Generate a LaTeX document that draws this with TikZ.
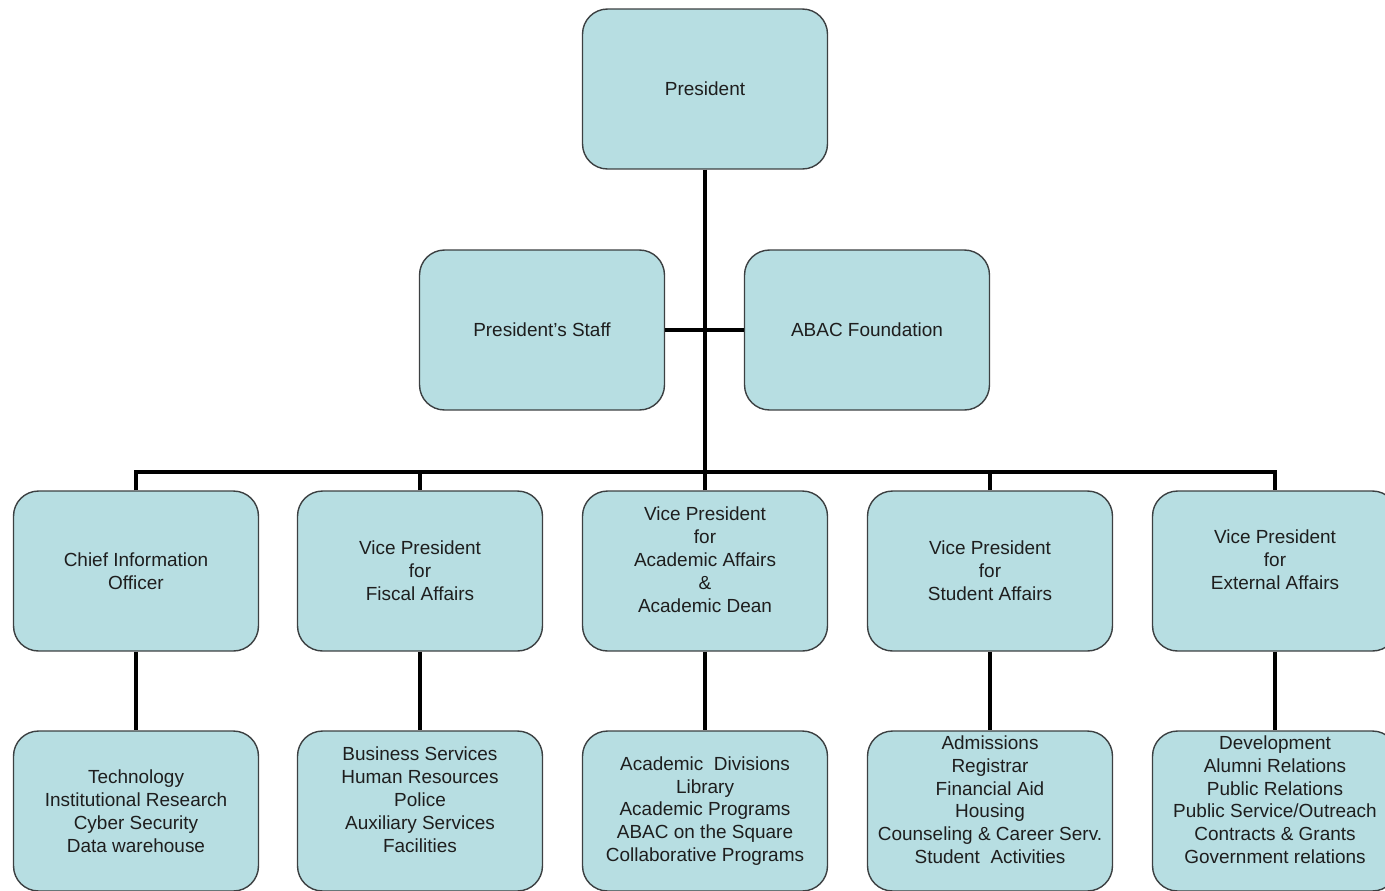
\documentclass[tikz,border=0pt]{standalone}
\usepackage{fontspec}
\setmainfont{Liberation Sans}
\usepackage{tikz}
\usetikzlibrary{positioning}
\definecolor{boxfill}{RGB}{183,222,226}
\definecolor{boxline}{RGB}{60,64,66}
\definecolor{boxtext}{RGB}{30,30,30}

\begin{document}
\begin{tikzpicture}[x=0.02cm,y=-0.02cm,font=\fontsize{10.8}{13}\selectfont,
  box/.style={draw=boxline,line width=0.8pt,fill=boxfill,rounded corners=0.5cm,
    minimum width=4.9cm,minimum height=3.2cm,align=center,text=boxtext,inner sep=2pt},
  conn/.style={line width=2.8pt,black}]
\useasboundingbox (0,0) rectangle (1385,890);
% top of the chart
\node[box] (pres) at (705,89) {President};
\node[box] (staff) at (542,330) {President{\char"0027}s Staff};
\node[box] (found) at (867,330) {ABAC Foundation};
\coordinate (bus) at (705,472);
% vice presidents
\node[box] (cio) at (136,571) {Chief Information\\Officer};
\node[box] (fis) at (420,571) {Vice President\\for\\Fiscal Affairs};
\node[box] (aca) at (705,571) {Vice President\\for\\Academic Affairs\\\&\\Academic Dean\\ \mbox{}};
\node[box] (stu) at (990,571) {Vice President\\for\\Student Affairs};
\node[box] (ext) at (1275,571) {Vice President\\for\\External Affairs\\ \mbox{}};
% units
\node[box] (tech) at (136,811) {Technology\\Institutional Research\\Cyber Security\\Data warehouse};
\node[box] (fisu) at (420,811) {Business Services\\Human Resources\\Police\\Auxiliary Services\\Facilities\\ \mbox{}};
\node[box] (acau) at (705,811) {Academic~ Divisions\\Library\\Academic Programs\\ABAC on the Square\\Collaborative Programs};
\node[box] (stuu) at (990,811) {Admissions\\Registrar\\Financial Aid\\Housing\\Counseling \& Career Serv.\\Student~ Activities\\ \mbox{}};
\node[box] (extu) at (1275,811) {Development\\Alumni Relations\\Public Relations\\Public Service/Outreach\\Contracts \& Grants\\Government relations\\ \mbox{}};

\draw[conn] (pres) -- (bus);
\draw[conn] (staff) -- (found);
\draw[conn] (cio.north) |- (bus) -| (ext.north);
\draw[conn] (fis.north) -- (fis.north |- bus);
\draw[conn] (stu.north) -- (stu.north |- bus);
\draw[conn] (aca.north) -- (bus);
\draw[conn] (cio) -- (tech);
\draw[conn] (fis) -- (fisu);
\draw[conn] (aca) -- (acau);
\draw[conn] (stu) -- (stuu);
\draw[conn] (ext) -- (extu);
\end{tikzpicture}
\end{document}
